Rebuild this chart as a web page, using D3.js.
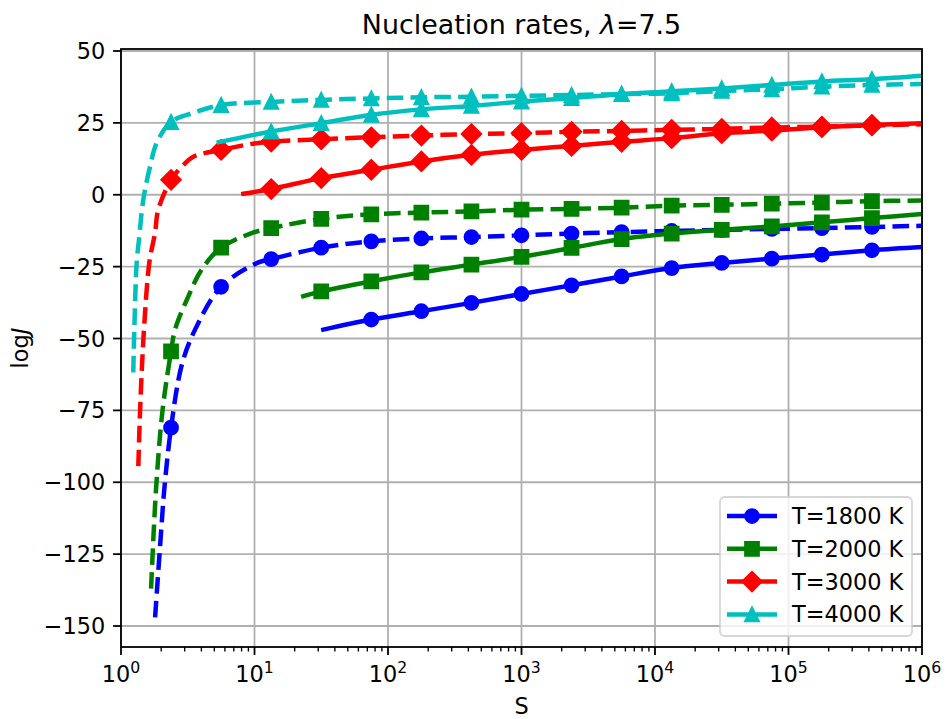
<!DOCTYPE html>
<html>
<head>
<meta charset="utf-8">
<script src="https://cdn.jsdelivr.net/npm/d3@7"></script>
<style>
  body { margin: 0; background: #fff; }
  svg { font-family: "DejaVu Sans", sans-serif; }
</style>
</head>
<body>
<div id="chart"></div>
<script>
const W = 948, H = 719;

// S values where markers sit
const markS = [2.371, 5.623, 13.34, 31.62, 74.99, 177.8, 421.7, 1000, 2371, 5623,
               13335, 31623, 74989, 177828, 421697];

const xTicks = [1, 10, 100, 1000, 10000, 100000, 1000000];
const yTicks = [-150, -125, -100, -75, -50, -25, 0, 25, 50];

const labels = ['T=1800 K', 'T=2000 K', 'T=3000 K', 'T=4000 K'];
const colors = ['#0000ff', '#008000', '#ff0000', '#00bfbf'];
const shapes = ['circle', 'square', 'diamond', 'triangle'];

// dashed curves [S, logJ]
const t1800_dashed = [[1.80,-147],[2.02,-114],[2.10,-103.5],[2.371,-81],[2.86,-59],[3.58,-47],
  [5.623,-32],[10.6,-23.6],[13.34,-22.4],[31.62,-18.4],[74.99,-16.2],[177.8,-15.2],[421.7,-14.7],
  [1000,-14.1],[2371,-13.5],[5623,-13.0],[13335,-12.6],[31623,-12.2],[74989,-11.9],[177828,-11.6],
  [421697,-11.2],[1e6,-10.8]];
const t2000_dashed = [[1.68,-137],[1.83,-102.4],[2.05,-74.7],[2.371,-54.5],[2.54,-46.9],[3.19,-35.4],
  [4.02,-26],[5.623,-18.4],[9.75,-13.2],[13.34,-11.6],[31.62,-8.4],[74.99,-6.8],[177.8,-6.2],
  [421.7,-5.8],[1000,-5.2],[2371,-4.9],[5623,-4.5],[13335,-3.8],[31623,-3.5],[74989,-3.1],
  [177828,-2.7],[421697,-2.2],[1e6,-2.0]];
const t3000_dashed = [[1.348,-94.4],[1.388,-75.7],[1.436,-59.7],[1.486,-46.9],[1.63,-23.6],[1.80,-13.2],
  [1.90,-5.2],[2.371,5.2],[2.85,9.7],[3.48,13.2],[5.623,15.6],[8.74,17.4],[13.34,18.5],[31.62,19.3],
  [74.99,20.0],[177.8,20.6],[421.7,21.1],[1000,21.4],[2371,21.9],[5623,22.2],[13335,22.6],
  [31623,22.9],[74989,23.4],[177828,23.7],[421697,24.1],[1e6,24.5]];
const t4000_dashed = [[1.236,-61.8],[1.258,-46.9],[1.311,-23.6],[1.364,-15.6],[1.469,-1.7],[1.649,9.7],
  [1.85,18.0],[2.371,25.3],[3.48,28.5],[5.623,31.2],[13.34,32.3],[31.62,33.0],[74.99,33.5],
  [177.8,33.9],[421.7,34.1],[1000,34.4],[2371,34.7],[5623,35.0],[13335,35.3],[31623,36.1],
  [74989,36.7],[177828,37.6],[421697,38.2],[1e6,38.5]];

// solid curves [S, logJ]
const t1800_solid = [[32.8,-46.9],[74.99,-43.4],[177.8,-40.5],[421.7,-37.6],[1000,-34.5],[2371,-31.5],
  [5623,-28.4],[13335,-25.5],[31623,-23.7],[74989,-22.2],[177828,-20.8],[421697,-19.3],[1e6,-18.2]];
const t2000_solid = [[23.2,-35.3],[31.62,-33.6],[74.99,-30.1],[177.8,-27.0],[421.7,-24.3],[1000,-21.6],
  [2371,-18.5],[5623,-15.4],[13335,-13.5],[31623,-12.2],[74989,-11.0],[177828,-9.6],[421697,-8.1],
  [1e6,-6.7]];
const t3000_solid = [[8.25,0.35],[13.34,2.0],[31.62,5.8],[74.99,8.7],[177.8,11.6],[421.7,13.9],
  [1000,15.6],[2371,17.0],[5623,18.4],[13335,19.7],[31623,21.4],[74989,22.3],[177828,23.5],
  [421697,24.3],[1e6,24.9]];
const t4000_solid = [[5.4,18.3],[13.34,22.0],[31.62,24.9],[74.99,27.8],[177.8,29.7],[421.7,30.9],
  [1000,32.4],[2371,33.6],[5623,35.0],[13335,36.0],[31623,37.0],[74989,38.2],[177828,39.4],
  [421697,40.2],[1e6,41.4]];

const dashedSets = [t1800_dashed, t2000_dashed, t3000_dashed, t4000_dashed];
const solidSets = [t1800_solid, t2000_solid, t3000_solid, t4000_solid];

const margin = {left: 121, right: 26, top: 49, bottom: 72};
const x = d3.scaleLog().domain([1, 1e6]).range([margin.left, W - margin.right]);
const y = d3.scaleLinear().domain([-157.3, 50.7]).range([H - margin.bottom, margin.top]);

const svg = d3.select('#chart').append('svg')
  .attr('width', W).attr('height', H);

svg.append('defs').append('clipPath').attr('id', 'plotclip')
  .append('rect')
  .attr('x', x.range()[0]).attr('y', y.range()[1])
  .attr('width', x.range()[1] - x.range()[0])
  .attr('height', y.range()[0] - y.range()[1]);

// grid
const grid = svg.append('g');
grid.selectAll('.gx').data(xTicks).enter().append('line')
  .attr('x1', d => x(d)).attr('x2', d => x(d))
  .attr('y1', y.range()[0]).attr('y2', y.range()[1])
  .attr('stroke', '#b0b0b0').attr('stroke-width', 1.8);
grid.selectAll('.gy').data(yTicks).enter().append('line')
  .attr('x1', x.range()[0]).attr('x2', x.range()[1])
  .attr('y1', d => y(d)).attr('y2', d => y(d))
  .attr('stroke', '#b0b0b0').attr('stroke-width', 1.8);

const ms = 13.5;
function markerPath(shape) {
  const h = ms / 2;
  if (shape === 'circle') return d3.arc()({innerRadius: 0, outerRadius: h, startAngle: 0, endAngle: 2 * Math.PI});
  if (shape === 'square') return `M${-h},${-h}H${h}V${h}H${-h}Z`;
  if (shape === 'diamond') { const d = ms * Math.SQRT1_2; return `M0,${-d}L${d},0L0,${d}L${-d},0Z`; }
  return `M0,${-h}L${h},${h}L${-h},${h}Z`;
}
const isMark = s => markS.some(m => Math.abs(Math.log10(s / m)) < 1e-3);

const line = d3.line()
  .x(d => x(d[0])).y(d => y(d[1]))
  .curve(d3.curveCatmullRom.alpha(0.5));

const plot = svg.append('g').attr('clip-path', 'url(#plotclip)');

function drawSeries(data, i, dashed) {
  const g = plot.append('g');
  g.append('path')
    .datum(data)
    .attr('d', line)
    .attr('fill', 'none')
    .attr('stroke', colors[i])
    .attr('stroke-width', 4.5)
    .attr('stroke-linecap', dashed ? 'butt' : 'square')
    .attr('stroke-linejoin', 'round')
    .attr('stroke-dasharray', dashed ? '16.6,7.2' : null);
  g.selectAll('.m').data(data.filter(d => isMark(d[0]))).enter().append('path')
    .attr('d', markerPath(shapes[i]))
    .attr('transform', d => `translate(${x(d[0])},${y(d[1])})`)
    .attr('fill', colors[i])
    .attr('stroke', colors[i])
    .attr('stroke-width', 2.25)
    .attr('stroke-linejoin', 'miter');
}
for (let i = 0; i < 4; i++) {
  drawSeries(dashedSets[i], i, true);
  drawSeries(solidSets[i], i, false);
}

// frame
svg.append('rect')
  .attr('x', x.range()[0]).attr('y', y.range()[1])
  .attr('width', x.range()[1] - x.range()[0])
  .attr('height', y.range()[0] - y.range()[1])
  .attr('fill', 'none').attr('stroke', '#000').attr('stroke-width', 1.8);

// x axis
const xa = svg.append('g');
const minor = [];
for (let k = 0; k < 6; k++) for (let m = 2; m <= 9; m++) minor.push(m * Math.pow(10, k));
xa.selectAll('.mt').data(minor).enter().append('line')
  .attr('x1', d => x(d)).attr('x2', d => x(d))
  .attr('y1', y.range()[0]).attr('y2', y.range()[0] + 4.5)
  .attr('stroke', '#000').attr('stroke-width', 1.35);
xa.selectAll('.t').data(xTicks).enter().append('line')
  .attr('x1', d => x(d)).attr('x2', d => x(d))
  .attr('y1', y.range()[0]).attr('y2', y.range()[0] + 7.9)
  .attr('stroke', '#000').attr('stroke-width', 1.8);
const xl = xa.selectAll('.tl').data(xTicks).enter().append('text')
  .attr('x', d => x(d)).attr('y', 682)
  .attr('text-anchor', 'middle')
  .attr('font-size', 22.4)
  .attr('fill', '#000');
xl.append('tspan').text('10');
xl.append('tspan').attr('dy', -9.5).attr('font-size', 15.7).text(d => Math.round(Math.log10(d)));

svg.append('text').attr('x', (x.range()[0] + x.range()[1]) / 2).attr('y', 714)
  .attr('text-anchor', 'middle').attr('font-size', 22.4).text('S');

// y axis
const ya = svg.append('g');
ya.selectAll('.t').data(yTicks).enter().append('line')
  .attr('x1', x.range()[0] - 7.9).attr('x2', x.range()[0])
  .attr('y1', d => y(d)).attr('y2', d => y(d))
  .attr('stroke', '#000').attr('stroke-width', 1.8);
ya.selectAll('.tl').data(yTicks).enter().append('text')
  .attr('x', x.range()[0] - 15.8).attr('y', d => y(d))
  .attr('dy', '0.36em')
  .attr('text-anchor', 'end').attr('font-size', 22.4)
  .text(d => d < 0 ? '\u2212' + Math.abs(d) : d);

const yl = svg.append('text')
  .attr('transform', `translate(28,${(y.range()[0] + y.range()[1]) / 2}) rotate(-90)`)
  .attr('text-anchor', 'middle').attr('font-size', 22.4);
yl.append('tspan').text('log');
yl.append('tspan').attr('font-style', 'italic').text('J');

// title
const tt = svg.append('text').attr('x', (x.range()[0] + x.range()[1]) / 2).attr('y', 34)
  .attr('text-anchor', 'middle').attr('font-size', 26.9);
tt.append('tspan').text('Nucleation rates, ');
tt.append('tspan').attr('font-style', 'italic').text('\u03bb');
tt.append('tspan').text('=7.5');

// legend
const lg = svg.append('g');
lg.append('rect')
  .attr('x', 720).attr('y', 497).attr('width', 192).attr('height', 139).attr('rx', 4.5)
  .attr('fill', '#fff').attr('fill-opacity', 0.8)
  .attr('stroke', '#cccccc').attr('stroke-opacity', 0.8).attr('stroke-width', 1.8);
labels.forEach((lab, i) => {
  const cy = 516 + i * 32.8;
  lg.append('line').attr('x1', 727).attr('x2', 777).attr('y1', cy).attr('y2', cy)
    .attr('stroke', colors[i]).attr('stroke-width', 4.5);
  lg.append('path').attr('d', markerPath(shapes[i]))
    .attr('transform', `translate(752,${cy})`)
    .attr('fill', colors[i]).attr('stroke', colors[i]).attr('stroke-width', 2.25);
  lg.append('text').attr('x', 792).attr('y', cy).attr('dy', '0.36em')
    .attr('font-size', 22.4).text(lab);
});
</script>
</body>
</html>
